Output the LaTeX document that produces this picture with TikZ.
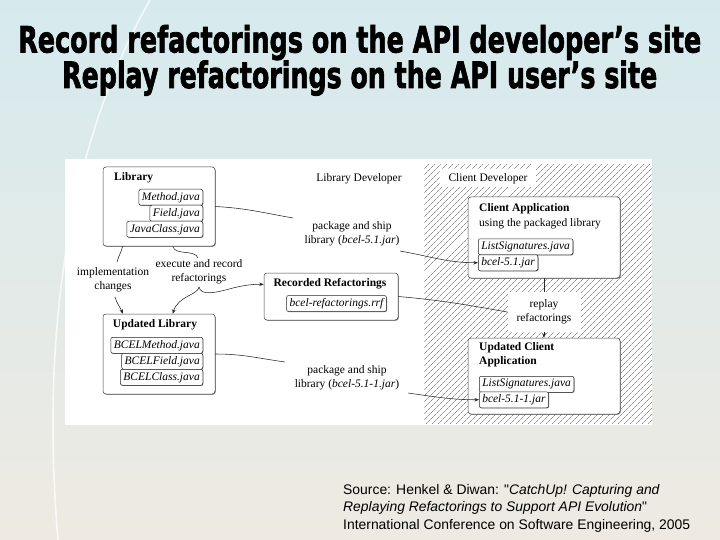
\documentclass[tikz,border=0pt]{standalone}
\usepackage{fontspec}
\usepackage{graphicx}
\setmainfont{Liberation Serif}
\newfontfamily\titlefont[BoldFeatures={FakeBold=2.2}]{DejaVu Sans}
\newfontfamily\srcfont{Liberation Sans}
\usetikzlibrary{arrows.meta,patterns.meta,shadows}
\definecolor{bgtop}{RGB}{214,234,238}
\definecolor{bgmid}{RGB}{236,240,236}
\definecolor{bgbot}{RGB}{238,234,226}
\definecolor{hatchc}{RGB}{85,85,85}
\begin{document}
\begin{tikzpicture}[x=1pt,y=-1pt,
  every node/.style={font=\fontsize{11.5}{13.8}\selectfont, inner sep=0pt},
  bigbox/.style={draw=black!75, line width=0.5pt, rounded corners=3pt, fill=white,
    drop shadow={shadow xshift=0.8pt, shadow yshift=-0.8pt, fill=black!55, opacity=0.8}},
  filebox/.style={draw=black!85, line width=0.5pt, rounded corners=2pt, fill=white,
    minimum height=16pt, inner xsep=3pt, font=\fontsize{11.5}{13.8}\selectfont\itshape,
    drop shadow={shadow xshift=0.6pt, shadow yshift=-0.6pt, fill=black!65, opacity=0.8}},
  conn/.style={draw=black!85, line width=0.55pt},
  arr/.style={conn, -{Stealth[length=4.5pt,width=3.5pt]}},
  lbl/.style={font=\fontsize{11.5}{13.8}\selectfont, align=center},
  blbl/.style={font=\fontsize{11.5}{13.8}\selectfont\bfseries},
  ttl/.style={anchor=base west, inner sep=0pt},
  src/.style={anchor=base west, inner sep=0pt, font=\srcfont\fontsize{13.9}{17}\selectfont}]
\useasboundingbox (0,0) rectangle (720,540);
% background
\shade[top color=bgtop, middle color=bgmid, bottom color=bgbot] (0,0) rectangle (720,540);
\draw[white, line width=1.6pt, opacity=0.75] (150,0) .. controls (70,140) and (40,330) .. (58,540);
% title
\node[ttl] (t1) at (18,52.5) {\resizebox{683pt}{27.5pt}{\titlefont\bfseries Record refactorings on the API developer’s site}};
\node[ttl] (t2) at (62,88) {\resizebox{595pt}{27.5pt}{\titlefont\bfseries Replay refactorings on the API user’s site}};
% diagram area
\fill[white] (65,159) rectangle (652,425);
\fill[pattern={Lines[angle=45,distance=4pt,line width=0.45pt]}, pattern color=hatchc] (424,165) rectangle (652,423);
% library
\node[bigbox, minimum width=112pt, minimum height=79pt] (lib) at (159,206.5) {};
\node[blbl, anchor=west] (libt) at (114,178) {Library};
\node[filebox, anchor=north east] (m1) at (203,189) {Method.java};
\node[filebox, anchor=north east] (f1) at (203,205) {Field.java};
\node[filebox, anchor=north east] (c1) at (203,221) {JavaClass.java};
% updated library
\node[bigbox, minimum width=112pt, minimum height=80pt] (ulib) at (159,354) {};
\node[blbl] (ulibt) at (155,325) {Updated Library};
\node[filebox, anchor=north east] (m2) at (203,337) {BCELMethod.java};
\node[filebox, anchor=north east] (f2) at (203,353) {BCELField.java};
\node[filebox, anchor=north east] (c2) at (203,369) {BCELClass.java};
% recorded refactorings
\node[bigbox, minimum width=134pt, minimum height=47pt] (rr) at (331,296.5) {};
\node[blbl] (rrt) at (330,284) {Recorded Refactorings};
\node[filebox] (rrf) at (336.5,303.5) {bcel-refactorings.rrf};
% client application
\node[bigbox, minimum width=152pt, minimum height=81pt] (capp) at (544,237.5) {};
\node[blbl, anchor=west] (cappt) at (479,209) {Client Application};
\node[lbl, anchor=west] (cappu) at (479,224) {using the packaged library};
\node[filebox, anchor=north west] (ls1) at (478,238.5) {ListSignatures.java};
\node[filebox, anchor=north west] (jar1) at (478,254.5) {bcel-5.1.jar};
% updated client application
\node[bigbox, minimum width=152pt, minimum height=76pt] (ucapp) at (544,376) {};
\node[blbl, anchor=west] (ucappt1) at (479,348) {Updated Client};
\node[blbl, anchor=west] (ucappt2) at (479,362) {Application};
\node[filebox, anchor=north west] (ls2) at (479,376) {ListSignatures.java};
\node[filebox, anchor=north west] (jar2) at (479,391.5) {bcel-5.1-1.jar};
% labels
\node[lbl] (ldev) at (359,179) {Library Developer};
\node[lbl, fill=white, minimum width=96pt, minimum height=18pt] (cdev) at (488,178.5) {Client Developer};
\node[lbl] (pkg1) at (352,233.5) {package and ship\\library (\textit{bcel-5.1.jar})};
\node[lbl] (pkg2) at (347,377.5) {package and ship\\library (\textit{bcel-5.1-1.jar})};
\node[lbl] (impl) at (113,280) {implementation\\changes};
\node[lbl] (exec) at (199,271.5) {execute and record\\refactorings};
\node[lbl, fill=white, minimum width=73pt, minimum height=40pt] (replay) at (544,312) {replay\\refactorings};
% connectors
\coordinate (p1a) at (293,218);
\coordinate (p1b) at (400,251);
\draw[conn] (lib.east) to[out=-3,in=170] (p1a);
\draw[arr] (p1b) to[out=-10,in=180] (jar1.west);
\coordinate (p2a) at (285,362);
\coordinate (p2b) at (408,393);
\draw[conn] (ulib.east) to[out=0,in=172] (p2a);
\draw[arr] (p2b) to[out=-8,in=180] (jar2.west);
\draw[conn] (rr.east) to[out=-5,in=170] (replay.west);
\draw[conn] (capp.south) -- (replay.north);
\draw[arr] (replay.south) -- (ucapp.north);
\coordinate (i1) at (117,262);
\coordinate (i2) at (115,297);
\draw[conn] ([xshift=20pt]lib.south west) to[out=-105,in=75] (i1);
\draw[arr] (i2) to[out=-75,in=110] ([xshift=20pt]ulib.north west);
\coordinate (e1) at (198,258);
\draw[conn] ([xshift=70pt]lib.south west) .. controls (175,256) and (195,249) .. (e1);
\coordinate (bt) at (199,287);
\draw[arr] (bt) .. controls (201,296) and (215,293) .. (233,288) .. controls (245,285) and (255,284) .. ([yshift=12pt]rr.west);
\draw[arr] (bt) .. controls (198,295) and (178,296) .. ([xshift=70pt]ulib.north west);
% source
\node[src] (s1) at (343,494) {Source: Henkel \& Diwan: "\textit{CatchUp! Capturing and}};
\node[src] (s2) at (343,511.5) {\textit{Replaying Refactorings to Support API Evolution}"};
\node[src] (s3) at (343,529) {International Conference on Software Engineering, 2005};
\end{tikzpicture}
\end{document}
